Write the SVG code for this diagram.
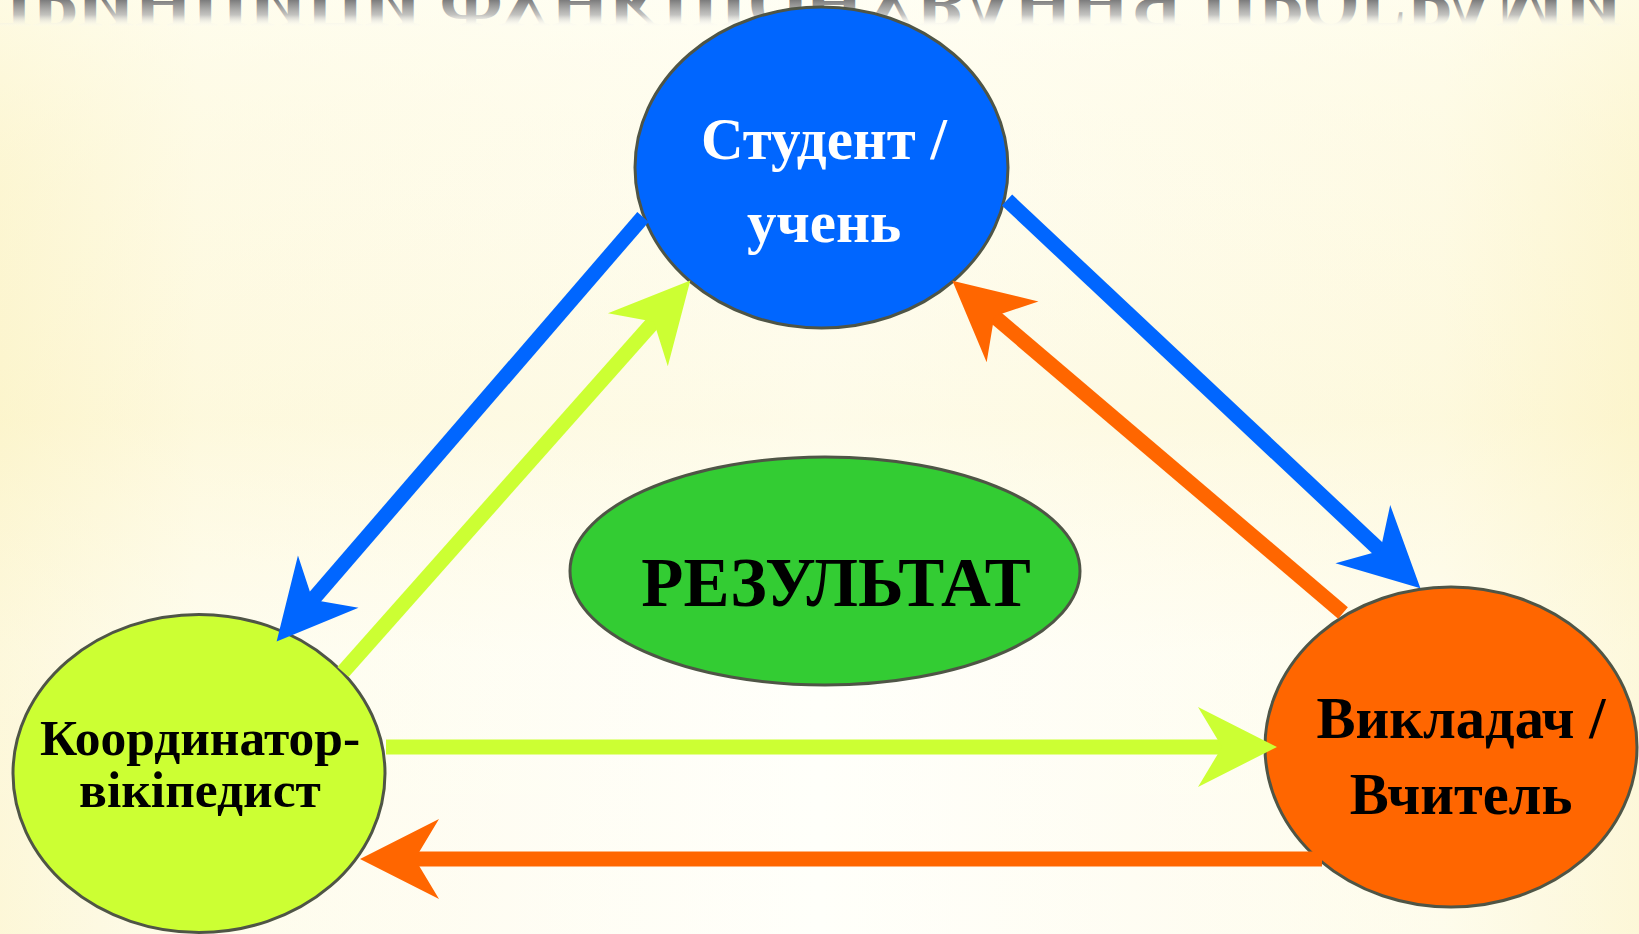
<svg xmlns="http://www.w3.org/2000/svg" width="1639" height="934" viewBox="0 0 1639 934">
  <defs>
    <linearGradient id="bgH" x1="0" y1="0" x2="1" y2="0">
      <stop offset="0" stop-color="#fcf5cf"/>
      <stop offset="0.12" stop-color="#fefbe8"/>
      <stop offset="0.5" stop-color="#fffffa"/>
      <stop offset="0.88" stop-color="#fefbe8"/>
      <stop offset="1" stop-color="#fcf5cf"/>
    </linearGradient>
    <linearGradient id="bgV" x1="0" y1="0" x2="0" y2="1">
      <stop offset="0" stop-color="#fffef0" stop-opacity="0.6"/>
      <stop offset="0.2" stop-color="#fdf8da" stop-opacity="0.3"/>
      <stop offset="0.45" stop-color="#fcf4c8" stop-opacity="0.35"/>
      <stop offset="0.7" stop-color="#fffffa" stop-opacity="0.3"/>
      <stop offset="1" stop-color="#fffffa" stop-opacity="0.2"/>
    </linearGradient>
    <linearGradient id="refl" gradientUnits="userSpaceOnUse" x1="0" y1="0" x2="0" y2="-27">
      <stop offset="0" stop-color="#7c7c7c"/>
      <stop offset="0.55" stop-color="#b4b4b4" stop-opacity="0.8"/>
      <stop offset="1" stop-color="#ffffff" stop-opacity="0"/>
    </linearGradient>
    <marker id="hBlue" markerUnits="userSpaceOnUse" orient="auto" refX="0" refY="0" markerWidth="10" markerHeight="10" overflow="visible">
      <path d="M52,0 L-27,-40 L-3,0 L-27,40 Z" fill="#0066ff"/>
    </marker>
    <marker id="hGreen" markerUnits="userSpaceOnUse" orient="auto" refX="0" refY="0" markerWidth="10" markerHeight="10" overflow="visible">
      <path d="M52,0 L-27,-40 L-3,0 L-27,40 Z" fill="#ccff33"/>
    </marker>
    <marker id="hOrange" markerUnits="userSpaceOnUse" orient="auto" refX="0" refY="0" markerWidth="10" markerHeight="10" overflow="visible">
      <path d="M52,0 L-27,-40 L-3,0 L-27,40 Z" fill="#ff6600"/>
    </marker>
  </defs>
  <style>
    .node { stroke: #4f5546; stroke-width: 3; }
    .lbl { font-family: "Liberation Serif", "Times New Roman", serif; font-weight: bold; text-anchor: middle; }
    .conn { fill: none; stroke-width: 15; stroke-linecap: butt; }
    .title { font-family: "Liberation Serif", "Times New Roman", serif; font-weight: bold; font-size: 73px; }
  </style>

  <rect x="0" y="0" width="1639" height="934" fill="url(#bgH)"/>
  <rect x="0" y="0" width="1639" height="934" fill="url(#bgV)"/>

  <g id="title-reflection">
    <text class="title" transform="scale(1,-1)" x="-25" y="22" textLength="1647" lengthAdjust="spacingAndGlyphs" fill="url(#refl)">ПРИНЦИПИ ФУНКЦІОНУВАННЯ ПРОГРАМИ</text>
  </g>

  <g id="node-student">
    <ellipse class="node" cx="821.5" cy="167.5" rx="186.5" ry="160.5" fill="#0066ff"/>
    <text class="lbl" font-size="59" fill="#ffffff"><tspan x="824" y="159">Студент /</tspan><tspan x="824" y="242">учень</tspan></text>
  </g>

  <g id="node-result">
    <ellipse class="node" cx="825" cy="571" rx="255" ry="114" fill="#33cc33"/>
    <text class="lbl" x="836" y="606" font-size="69" fill="#000000">РЕЗУЛЬТАТ</text>
  </g>

  <g id="node-coordinator">
    <ellipse class="node" cx="199" cy="773.5" rx="186" ry="159" fill="#ccff33"/>
    <text class="lbl" font-size="51.5" fill="#000000"><tspan x="200" y="755">Координатор-</tspan><tspan x="200" y="807">вікіпедист</tspan></text>
  </g>

  <g id="node-teacher">
    <ellipse class="node" cx="1451" cy="747" rx="186" ry="160" fill="#ff6600"/>
    <text class="lbl" font-size="58.5" fill="#000000"><tspan x="1461" y="738">Викладач /</tspan><tspan x="1461" y="814">Вчитель</tspan></text>
  </g>

  <g id="connectors">
    <line class="conn" x1="643" y1="217" x2="310.6" y2="602.1" stroke="#0066ff" marker-end="url(#hBlue)"/>
    <line class="conn" x1="343" y1="672" x2="655.8" y2="319.5" stroke="#ccff33" marker-end="url(#hGreen)"/>
    <line class="conn" x1="1007" y1="200" x2="1382.5" y2="552.7" stroke="#0066ff" marker-end="url(#hBlue)"/>
    <line class="conn" x1="1343" y1="613" x2="992" y2="314.4" stroke="#ff6600" marker-end="url(#hOrange)"/>
    <line class="conn" x1="386" y1="747" x2="1225" y2="747" stroke="#ccff33" stroke-width="16" marker-end="url(#hGreen)"/>
    <line class="conn" x1="1322" y1="859" x2="412" y2="859" stroke="#ff6600" stroke-width="16" marker-end="url(#hOrange)"/>
  </g>
</svg>
